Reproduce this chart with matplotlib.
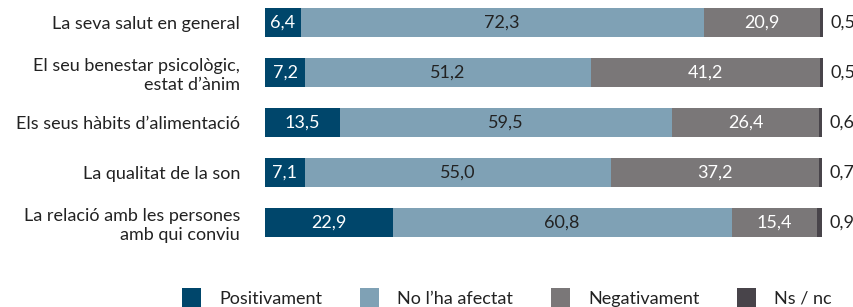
import matplotlib.pyplot as plt
from matplotlib.patches import Patch

plt.rcParams['font.family'] = ['Lato', 'DejaVu Sans']

categories = ["La seva salut en general",
              "El seu benestar psicològic,\nestat d’ànim",
              "Els seus hàbits d’alimentació",
              "La qualitat de la son",
              "La relació amb les persones\namb qui conviu"]
positivament = [6.4, 7.2, 13.5, 7.1, 22.9]
no_afectat = [72.3, 51.2, 59.5, 55.0, 60.8]
negativament = [20.9, 41.2, 26.4, 37.2, 15.4]
ns_nc = [0.5, 0.5, 0.6, 0.7, 0.9]

series = [("Positivament", positivament, "#00466b", "white"),
          ("No l’ha afectat", no_afectat, "#7fa1b5", "#222222"),
          ("Negativament", negativament, "#7a7778", "white"),
          ("Ns / nc", ns_nc, "#48444a", None)]

fs = 13

fig = plt.figure(figsize=(8.54, 3.07), dpi=100)
ax = fig.add_axes([265 / 854, 1 - 245 / 307, 558 / 854, 245 / 307])

y = list(range(len(categories)))
left = [0.0] * len(categories)
for name, vals, col, tcol in series:
    ax.barh(y, vals, left=left, height=0.58, color=col, edgecolor='none')
    for i, v in enumerate(vals):
        lbl = f"{v:.1f}".replace(".", ",")
        if tcol is not None:
            ax.text(left[i] + v / 2, i, lbl, ha='center', va='center',
                    color=tcol, fontsize=fs)
        else:
            ax.text(left[i] + v + 1.3, i, lbl, ha='left', va='center',
                    color="#222222", fontsize=fs)
    left = [l + v for l, v in zip(left, vals)]

ax.set_xlim(0, 100.1)
ax.set_ylim(4.45, -0.45)
ax.set_yticks(y)
ax.set_yticklabels(categories, fontsize=fs, color="#222222", linespacing=1.2)
ax.tick_params(axis='y', length=0, pad=18)
ax.set_xticks([])
for s in ax.spines.values():
    s.set_visible(False)

handles = [Patch(facecolor=col, edgecolor='none', label=name) for name, _, col, _ in series]
fig.legend(handles=handles, loc='center', bbox_to_anchor=(0.594, 0.03), ncol=4,
           frameon=False, fontsize=fs, handlelength=1.05, handleheight=1.3,
           columnspacing=2.1, handletextpad=1.0, labelcolor="#222222")

fig.savefig("out.png", dpi=100)
